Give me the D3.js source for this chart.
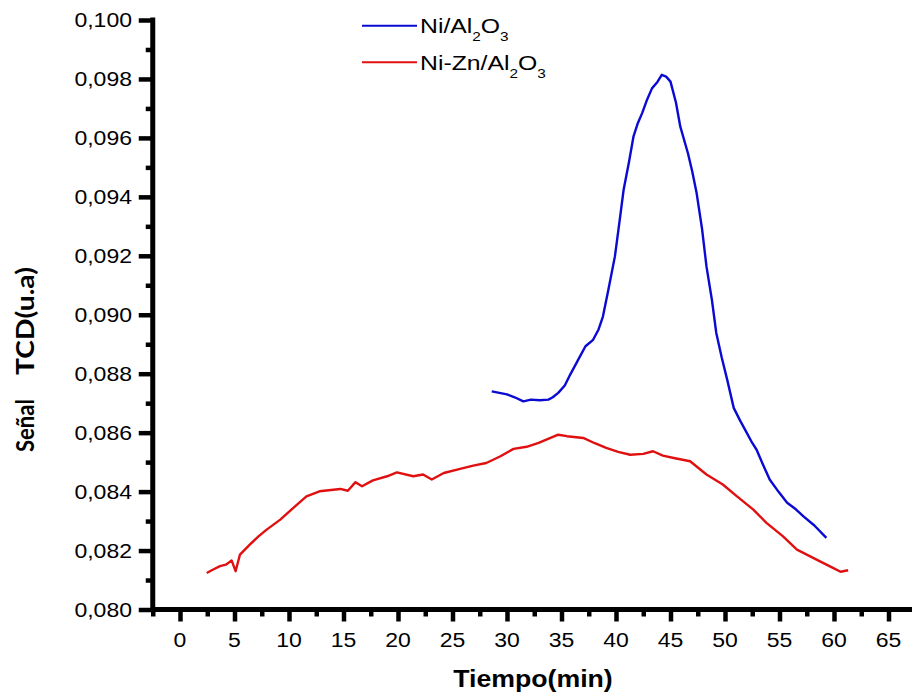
<!DOCTYPE html>
<html>
<head>
<meta charset="utf-8">
<script src="https://cdn.jsdelivr.net/npm/d3@7"></script>
<style>
  html, body { margin: 0; padding: 0; background: #fff; }
  svg { display: block; }
</style>
</head>
<body>
<svg id="chart" width="912" height="695"></svg>
<script>
// ---- data ----
const xTicks = [0, 5, 10, 15, 20, 25, 30, 35, 40, 45, 50, 55, 60, 65];
const yTicks = [0.080, 0.082, 0.084, 0.086, 0.088, 0.090, 0.092, 0.094, 0.096, 0.098, 0.100];
const seriesNames = ["Ni/Al2O3", "Ni-Zn/Al2O3"];

const niTime = [28.6, 29.3, 30.0, 30.7, 31.5, 32.2, 33.0, 33.8, 34.2, 34.7, 35.3, 35.8, 36.5, 37.2, 37.9, 38.4, 38.8, 39.3, 39.9, 40.3, 40.7, 41.2, 41.6, 42.0, 42.4, 42.8, 43.3, 43.8, 44.2, 44.6, 45.0, 45.5, 45.9, 46.6, 47.0, 47.4, 47.9, 48.3, 48.8, 49.2, 49.7, 50.2, 50.8, 51.4, 52.0, 52.5, 52.9, 53.5, 54.1, 54.9, 55.7, 56.5, 57.2, 58.2, 59.3];
const niSignal = [0.08740, 0.08735, 0.08730, 0.08720, 0.08706, 0.08712, 0.08710, 0.08712, 0.08720, 0.08735, 0.08760, 0.08797, 0.08845, 0.08893, 0.08915, 0.08950, 0.08994, 0.09085, 0.09198, 0.09310, 0.09424, 0.09520, 0.09604, 0.09650, 0.09684, 0.09725, 0.09768, 0.09790, 0.09814, 0.09808, 0.09791, 0.09720, 0.09638, 0.09548, 0.09485, 0.09412, 0.09290, 0.09164, 0.09050, 0.08938, 0.08855, 0.08780, 0.08684, 0.08640, 0.08599, 0.08565, 0.08542, 0.08490, 0.08441, 0.08400, 0.08362, 0.08340, 0.08316, 0.08285, 0.08243];

const nizTime = [2.45, 3.0, 3.67, 4.2, 4.74, 5.1, 5.5, 6.4, 7.2, 7.95, 9.2, 10.4, 11.6, 12.8, 14.7, 15.4, 16.1, 16.7, 17.7, 19.0, 19.9, 21.4, 22.3, 23.1, 24.2, 25.7, 26.9, 28.1, 29.4, 30.6, 31.8, 32.9, 34.7, 35.5, 37.0, 38.0, 39.1, 40.2, 41.3, 42.5, 43.4, 44.3, 45.3, 46.8, 48.3, 49.8, 51.1, 52.6, 53.8, 55.3, 56.6, 58.4, 59.9, 60.6, 61.3];
const nizSignal = [0.08124, 0.08135, 0.08147, 0.08152, 0.08166, 0.08130, 0.08186, 0.08220, 0.08248, 0.08271, 0.08305, 0.08345, 0.08384, 0.08401, 0.08409, 0.08403, 0.08432, 0.08418, 0.08438, 0.08452, 0.08465, 0.08452, 0.08458, 0.08441, 0.08463, 0.08477, 0.08488, 0.08497, 0.08520, 0.08545, 0.08552, 0.08565, 0.08593, 0.08588, 0.08582, 0.08565, 0.08548, 0.08535, 0.08525, 0.08528, 0.08537, 0.08522, 0.08514, 0.08503, 0.08458, 0.08424, 0.08384, 0.08339, 0.08294, 0.08249, 0.08203, 0.08169, 0.08141, 0.08128, 0.08133];

// ---- drawing ----
const svg = d3.select("#chart");
const SX = 1.18; // horizontal stretch of the reference text
const ARIAL = "'Liberation Sans', Arial, sans-serif";

const x = d3.scaleLinear().domain([-2.5, 67.5]).range([152.75, 915.75]);
const y = d3.scaleLinear().domain([0.080, 0.100]).range([609.5, 20]);

const fmt = v => d3.format(".3f")(v).replace(".", ",");

// minor ticks
const xMinor = d3.range(-2.5, 68, 5);
const yMinor = d3.range(0.081, 0.100, 0.002);

const gx = svg.append("g").attr("transform", "translate(0,609.5)");
gx.append("g").call(d3.axisBottom(x).tickValues(xMinor).tickSize(7).tickSizeOuter(0).tickFormat(""))
  .call(g => g.select(".domain").remove());
gx.append("g").call(d3.axisBottom(x).tickValues(xTicks).tickSize(12).tickSizeOuter(0).tickFormat(""))
  .call(g => g.select(".domain").remove());
gx.selectAll("line").attr("stroke", "#000").attr("stroke-width", 4.5);

const gy = svg.append("g").attr("transform", "translate(152.75,0)");
gy.append("g").call(d3.axisLeft(y).tickValues(yMinor).tickSize(7).tickSizeOuter(0).tickFormat(""))
  .call(g => g.select(".domain").remove());
gy.append("g").call(d3.axisLeft(y).tickValues(yTicks).tickSize(14).tickSizeOuter(0).tickFormat(""))
  .call(g => g.select(".domain").remove());
gy.selectAll("line").attr("stroke", "#000").attr("stroke-width", 4.5);

// axis lines
svg.append("line").attr("x1", x(-2.5)).attr("x2", 912).attr("y1", y(0.080)).attr("y2", y(0.080))
  .attr("stroke", "#000").attr("stroke-width", 5);
svg.append("line").attr("x1", x(-2.5)).attr("x2", x(-2.5)).attr("y1", y(0.100) - 2.5).attr("y2", y(0.080) + 2.5)
  .attr("stroke", "#000").attr("stroke-width", 5);

// tick labels
xTicks.forEach(t => {
  svg.append("g").attr("transform", `translate(${x(t)},647) scale(${SX},1)`)
    .append("text").attr("text-anchor", "middle")
    .attr("font-family", ARIAL).attr("font-size", 19.5).attr("fill", "#000").text(t);
});
yTicks.forEach(t => {
  svg.append("g").attr("transform", `translate(132,${y(t) + 7}) scale(${SX},1)`)
    .append("text").attr("text-anchor", "end")
    .attr("font-family", ARIAL).attr("font-size", 19.5).attr("fill", "#000").text(fmt(t));
});

// axis titles
svg.append("g").attr("transform", `translate(533,687) scale(1.16,1)`)
  .append("text").attr("text-anchor", "middle")
  .attr("font-family", ARIAL).attr("font-weight", "bold").attr("font-size", 23).attr("fill", "#000")
  .text("Tiempo(min)");

const yt = svg.append("g").attr("transform", "translate(34,0) rotate(-90)");
yt.append("text").attr("x", -452).attr("y", 0)
  .attr("font-family", "Lato, 'Open Sans', sans-serif").attr("font-weight", "bold").attr("font-size", 25)
  .attr("fill", "#000").attr("textLength", 53).attr("lengthAdjust", "spacingAndGlyphs").text("Señal");
yt.append("text").attr("x", -375).attr("y", 0)
  .attr("font-family", "Lato, 'Open Sans', sans-serif").attr("font-weight", "bold").attr("font-size", 25)
  .attr("fill", "#000").attr("textLength", 108).attr("lengthAdjust", "spacingAndGlyphs").text("TCD(u.a)");

// lines
const line = d3.line().x(d => x(d[0])).y(d => y(d[1]));
const niData = niTime.map((t, i) => [t, niSignal[i]]);
const nizData = nizTime.map((t, i) => [t, nizSignal[i]]);
const colors = ["#0a0ad2", "#e01010"];

svg.append("path").datum(nizData).attr("d", line).attr("fill", "none")
  .attr("stroke", colors[1]).attr("stroke-width", 2.4).attr("stroke-linejoin", "round");
svg.append("path").datum(niData).attr("d", line).attr("fill", "none")
  .attr("stroke", colors[0]).attr("stroke-width", 2.4).attr("stroke-linejoin", "round");

// legend
const legendY = [25.7, 62.3];
const legendParts = [["Ni/Al", "2", "O", "3"], ["Ni-Zn/Al", "2", "O", "3"]];
seriesNames.forEach((name, i) => {
  svg.append("line").attr("x1", 362).attr("x2", 417).attr("y1", legendY[i]).attr("y2", legendY[i])
    .attr("stroke", colors[i]).attr("stroke-width", 2);
  const p = legendParts[i];
  const t = svg.append("g").attr("transform", `translate(420,${legendY[i] + 7.5}) scale(${SX},1)`)
    .append("text").attr("font-family", ARIAL).attr("font-size", 21).attr("fill", "#000");
  t.append("tspan").text(p[0]);
  t.append("tspan").attr("font-size", 13).attr("dy", 8).text(p[1]);
  t.append("tspan").attr("dy", -8).text(p[2]);
  t.append("tspan").attr("font-size", 13).attr("dy", 8).text(p[3]);
});
</script>
</body>
</html>
